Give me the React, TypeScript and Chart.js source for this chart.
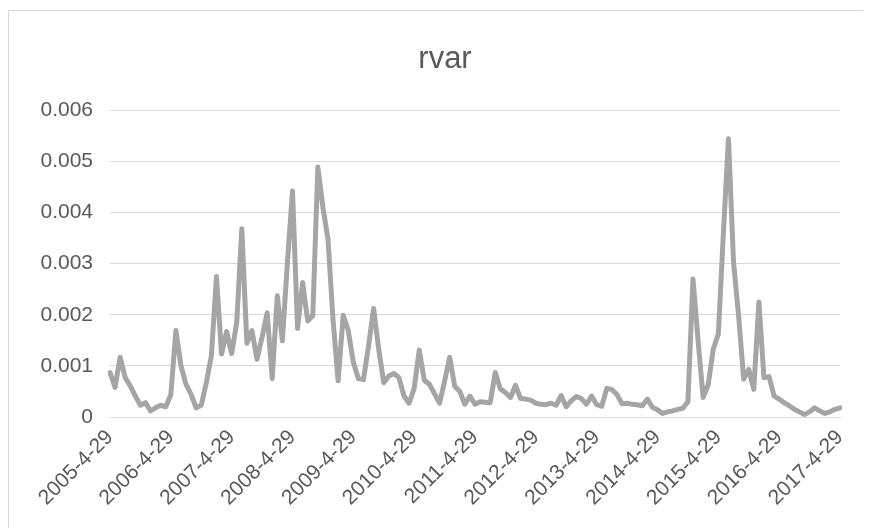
import React, { useEffect, useRef } from "react";
import { Chart, registerables } from "chart.js";

Chart.register(...registerables);

const title = "rvar";

// x-axis tick labels (one every 12 months)
const tickLabels = [
  "2005-4-29", "2006-4-29", "2007-4-29", "2008-4-29", "2009-4-29",
  "2010-4-29", "2011-4-29", "2012-4-29", "2013-4-29", "2014-4-29",
  "2015-4-29", "2016-4-29", "2017-4-29",
];

// monthly realized variance, 2005-04 .. 2017-04
const rvar = [
  0.00087, 0.00058, 0.00117, 0.00077, 0.00061, 0.00041, 0.00023, 0.00028, 0.00012, 0.00018, 0.00023, 0.0002,
  0.00044, 0.00169, 0.001, 0.00064, 0.00044, 0.00018, 0.00023, 0.00067, 0.0012, 0.00275, 0.00123, 0.00167,
  0.00124, 0.00185, 0.00368, 0.00144, 0.00169, 0.00113, 0.00156, 0.00204, 0.00075, 0.00237, 0.00149, 0.00303,
  0.00442, 0.00173, 0.00263, 0.00188, 0.00198, 0.00489, 0.0041, 0.00348, 0.0019, 0.00071, 0.00199, 0.00169,
  0.00107, 0.00075, 0.00073, 0.00139, 0.00212, 0.00133, 0.00067, 0.0008, 0.00085, 0.00077, 0.00041, 0.00027,
  0.00056, 0.00131, 0.00072, 0.00064, 0.00046, 0.00027, 0.0007, 0.00117, 0.0006, 0.0005, 0.00025, 0.00041,
  0.00025, 0.0003, 0.00029, 0.00028, 0.00087, 0.00055, 0.00048, 0.00038, 0.00062, 0.00036, 0.00035, 0.00033,
  0.00027, 0.00025, 0.00024, 0.00027, 0.00023, 0.00042, 0.0002, 0.00032, 0.0004, 0.00036, 0.00025, 0.00041,
  0.00024, 0.00021, 0.00056, 0.00054, 0.00044, 0.00026, 0.00027, 0.00025, 0.00024, 0.00022, 0.00035, 0.00019,
  0.00014, 0.00007, 0.0001, 0.00012, 0.00015, 0.00017, 0.0003, 0.0027, 0.0015, 0.00038, 0.00063, 0.00133,
  0.00162, 0.0036, 0.00544, 0.00303, 0.00198, 0.00074, 0.00093, 0.00054, 0.00225, 0.00077, 0.00079, 0.00041,
  0.00035, 0.00028, 0.00022, 0.00015, 0.0001, 0.00005, 0.0001, 0.00018, 0.00012, 0.00007, 0.0001, 0.00015,
  0.00018,
];

// one category per month; only every 12th gets a visible label
const categories = rvar.map((_, i) =>
  i % 12 === 0 ? tickLabels[i / 12] : ""
);

const TEXT = "#595959";
const GRID = "#d9d9d9";
const LINE = "#a5a5a5";
const FONT = "'Liberation Sans', Arial, sans-serif";

// centre the title over the whole frame rather than over the layout box
const titleShift = {
  id: "titleShift",
  afterLayout(chart: any) {
    const tb = chart.titleBlock;
    if (tb) tb.left += 41;
  },
};

export default function App() {
  const ref = useRef<HTMLCanvasElement>(null);

  useEffect(() => {
    if (!ref.current) return;
    const chart = new Chart(ref.current, {
      type: "line",
      data: {
        labels: categories,
        datasets: [
          {
            label: title,
            data: rvar,
            borderColor: LINE,
            backgroundColor: LINE,
            borderWidth: 5,
            pointRadius: 0,
            tension: 0,
            borderJoinStyle: "round",
            borderCapStyle: "round",
          },
        ],
      },
      options: {
        animation: false,
        responsive: false,
        layout: { padding: { top: 0, right: 27, bottom: 0, left: 0 } },
        plugins: {
          legend: { display: false },
          tooltip: { enabled: false },
          title: {
            display: true,
            text: title,
            color: TEXT,
            font: { family: FONT, size: 31, weight: "normal" },
            padding: { top: 30, bottom: 32 },
          },
        },
        scales: {
          x: {
            type: "category",
            offset: false,
            grid: { display: false, drawTicks: false },
            border: { display: true, color: GRID, width: 1 },
            ticks: {
              autoSkip: false,
              maxRotation: 45,
              minRotation: 45,
              padding: 8,
              color: TEXT,
              font: { family: FONT, size: 21 },
            },
            afterFit: (scale: any) => {
              scale.height = 124;
            },
          },
          y: {
            min: 0,
            max: 0.006,
            grid: { color: GRID, lineWidth: 1, drawTicks: false },
            border: { display: false },
            ticks: {
              stepSize: 0.001,
              padding: 17,
              color: TEXT,
              font: { family: FONT, size: 21 },
              callback: (v: any) => (Number(v) === 0 ? "0" : Number(v).toFixed(3)),
            },
            afterFit: (scale: any) => {
              scale.width = 101;
            },
          },
        },
      },
      plugins: [titleShift],
    });
    return () => chart.destroy();
  }, []);

  return (
    <div
      style={{
        width: 858,
        height: 530,
        border: `1px solid ${GRID}`,
        marginTop: 2,
        background: "#fff",
        overflow: "hidden",
      }}
    >
      <canvas ref={ref} width={858} height={530} style={{ display: "block" }} />
    </div>
  );
}
